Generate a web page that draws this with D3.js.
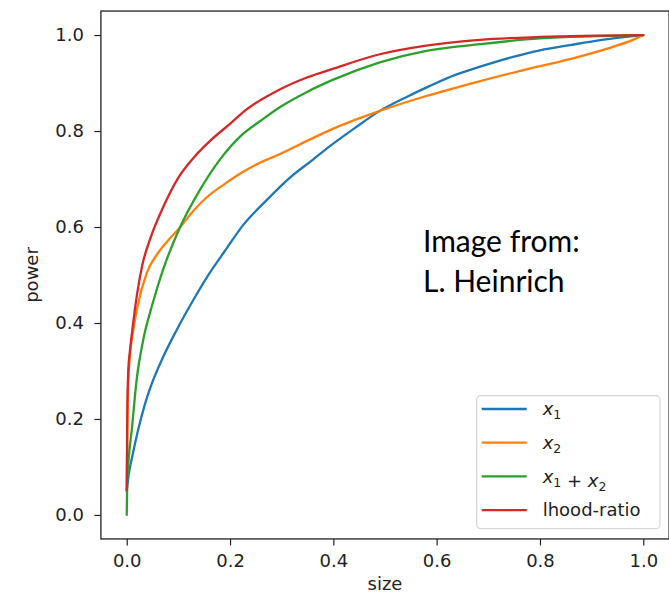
<!DOCTYPE html>
<html>
<head>
<meta charset="utf-8">
<script src="https://cdn.jsdelivr.net/npm/d3@7"></script>
<style>
  body { margin: 0; background: #fff; }
  text { font-family: 'DejaVu Sans', sans-serif; fill: #222; }
</style>
</head>
<body>
<div class="canvas"></div>
<script>
'use strict';

// tick values
const xTicks = [0, 0.2, 0.4, 0.6, 0.8, 1.0];
const yTicks = [0, 0.2, 0.4, 0.6, 0.8, 1.0];

// x1 (blue)
const sizeX1 = [0, 0.004, 0.01, 0.022, 0.035, 0.048, 0.07, 0.097, 0.13, 0.161, 0.19, 0.226, 0.27, 0.316, 0.36, 0.394, 0.44, 0.49, 0.54, 0.587, 0.636, 0.684, 0.75, 0.8, 0.858, 0.92, 1.0];
const powerX1 = [0.05, 0.085, 0.118, 0.177, 0.23, 0.272, 0.328, 0.386, 0.45, 0.505, 0.55, 0.605, 0.655, 0.703, 0.74, 0.769, 0.805, 0.842, 0.87, 0.894, 0.917, 0.934, 0.955, 0.968, 0.979, 0.99, 1.0];

// x2 (orange)
const sizeX2 = [0, 0.002, 0.006, 0.012, 0.02, 0.039, 0.06, 0.08, 0.103, 0.13, 0.155, 0.19, 0.219, 0.26, 0.297, 0.35, 0.4, 0.49, 0.58, 0.67, 0.76, 0.858, 0.94, 0.98, 1.0];
const powerX2 = [0.05, 0.25, 0.33, 0.38, 0.43, 0.505, 0.545, 0.572, 0.599, 0.635, 0.662, 0.69, 0.711, 0.735, 0.752, 0.78, 0.805, 0.842, 0.873, 0.9, 0.925, 0.95, 0.975, 0.99, 1.0];

// x1 + x2 (green)
const sizeSum = [0, 0.001, 0.004, 0.0097, 0.019, 0.032, 0.05, 0.07, 0.103, 0.142, 0.18, 0.223, 0.26, 0.297, 0.35, 0.4, 0.49, 0.58, 0.684, 0.8, 1.0];
const powerSum = [0, 0.07, 0.12, 0.177, 0.28, 0.365, 0.44, 0.51, 0.599, 0.678, 0.74, 0.792, 0.822, 0.85, 0.882, 0.907, 0.943, 0.967, 0.981, 0.993, 1.0];

// lhood-ratio (red)
const sizeLR = [0, 0.001, 0.003, 0.006, 0.0097, 0.02, 0.03, 0.045, 0.07, 0.1, 0.13, 0.165, 0.2, 0.232, 0.297, 0.35, 0.4, 0.49, 0.58, 0.684, 0.8, 1.0];
const powerLR = [0.052, 0.2, 0.3, 0.34, 0.375, 0.46, 0.52, 0.574, 0.64, 0.703, 0.745, 0.783, 0.815, 0.845, 0.887, 0.912, 0.93, 0.96, 0.978, 0.99, 0.996, 1.0];

const labels = ['x1', 'x2', 'x1+x2', 'lhood-ratio'];
const colors = ['#1f77b4', '#ff7f0e', '#2ca02c', '#d62728'];

const series = [
  { sizes: sizeX1, powers: powerX1 },
  { sizes: sizeX2, powers: powerX2 },
  { sizes: sizeSum, powers: powerSum },
  { sizes: sizeLR, powers: powerLR },
].map((s, i) => ({
  label: labels[i],
  color: colors[i],
  points: s.sizes.map((v, j) => [v, s.powers[j]]),
}));

const width = 669;
const height = 594;
const fontSize = '18px';

const svg = d3
  .select('.canvas')
  .append('svg')
  .attr('width', width)
  .attr('height', height);

svg.append('rect').attr('width', width).attr('height', height).attr('fill', '#fff');

const x = d3.scaleLinear().domain([-0.05, 1.05]).range([100.9, 669.1]);
const y = d3.scaleLinear().domain([-0.05, 1.05]).range([538.95, 11.05]);

const line = d3
  .line()
  .curve(d3.curveMonotoneX)
  .x(d => x(d[0]))
  .y(d => y(d[1]));

// curves
svg
  .append('g')
  .selectAll('path')
  .data(series)
  .enter()
  .append('path')
  .attr('d', d => line(d.points))
  .attr('fill', 'none')
  .attr('stroke', d => d.color)
  .attr('stroke-width', 2.3)
  .attr('stroke-linejoin', 'round')
  .attr('stroke-linecap', 'round');

// frame
svg
  .append('rect')
  .attr('x', x(-0.05))
  .attr('y', y(1.05))
  .attr('width', x(1.05) - x(-0.05))
  .attr('height', y(-0.05) - y(1.05))
  .attr('fill', 'none')
  .attr('stroke', '#222')
  .attr('stroke-width', 1.3);

// axes
const xAxisGroup = svg
  .append('g')
  .attr('transform', `translate(0, ${y(-0.05)})`)
  .call(
    d3.axisBottom(x).tickValues(xTicks).tickFormat(d3.format('.1f')).tickSize(6.5).tickPadding(8.5)
  );
const yAxisGroup = svg
  .append('g')
  .attr('transform', `translate(${x(-0.05)}, 0)`)
  .call(
    d3.axisLeft(y).tickValues(yTicks).tickFormat(d3.format('.1f')).tickSize(6.5).tickPadding(10.5)
  );

[xAxisGroup, yAxisGroup].forEach(g => {
  g.select('.domain').remove();
  g.selectAll('line').attr('stroke', '#222').attr('stroke-width', 1.2);
  g.selectAll('text')
    .style('font-family', "'DejaVu Sans', sans-serif")
    .style('font-size', fontSize)
    .attr('fill', '#222');
});

// axis labels
svg
  .append('text')
  .attr('x', (x(-0.05) + x(1.05)) / 2)
  .attr('y', 590)
  .attr('text-anchor', 'middle')
  .style('font-size', fontSize)
  .text('size');

svg
  .append('text')
  .attr('transform', `translate(38, ${(y(-0.05) + y(1.05)) / 2}) rotate(-90)`)
  .attr('text-anchor', 'middle')
  .style('font-size', fontSize)
  .text('power');

// annotation
const note = svg
  .append('text')
  .style('font-family', "Lato, 'Open Sans', sans-serif")
  .style('font-size', '30px')
  .style('fill', '#000');
note.append('tspan').attr('x', 423).attr('y', 251.7).text('Image from:');
note.append('tspan').attr('x', 423).attr('y', 292).text('L. Heinrich');

// legend
const legend = svg.append('g').attr('transform', 'translate(476.7, 395.7)');

legend
  .append('rect')
  .attr('width', 183.3)
  .attr('height', 133)
  .attr('rx', 4)
  .attr('fill', '#fff')
  .attr('fill-opacity', 0.8)
  .attr('stroke', '#d6d6d6')
  .attr('stroke-width', 1.2);

const rowY = i => 13.3 + i * 33.7;

legend
  .selectAll('line')
  .data(series)
  .enter()
  .append('line')
  .attr('x1', 5)
  .attr('x2', 50)
  .attr('y1', (d, i) => rowY(i))
  .attr('y2', (d, i) => rowY(i))
  .attr('stroke', d => d.color)
  .attr('stroke-width', 2.3);

const addVar = (t, sub) => {
  t.append('tspan').style('font-style', 'italic').text('x');
  t.append('tspan')
    .style('font-size', '12.5px')
    .attr('dy', 4)
    .text(sub);
  t.append('tspan').attr('dy', -4).text('');
};

legend
  .selectAll('text.lab')
  .data(series)
  .enter()
  .append('text')
  .attr('class', 'lab')
  .attr('x', 66)
  .attr('y', (d, i) => rowY(i))
  .attr('dy', '0.35em')
  .style('font-size', fontSize)
  .each(function (d) {
    const t = d3.select(this);
    if (d.label === 'x1') addVar(t, '1');
    else if (d.label === 'x2') addVar(t, '2');
    else if (d.label === 'x1+x2') {
      addVar(t, '1');
      t.append('tspan').text(' + ');
      addVar(t, '2');
    } else t.text(d.label);
  });
</script>
</body>
</html>
